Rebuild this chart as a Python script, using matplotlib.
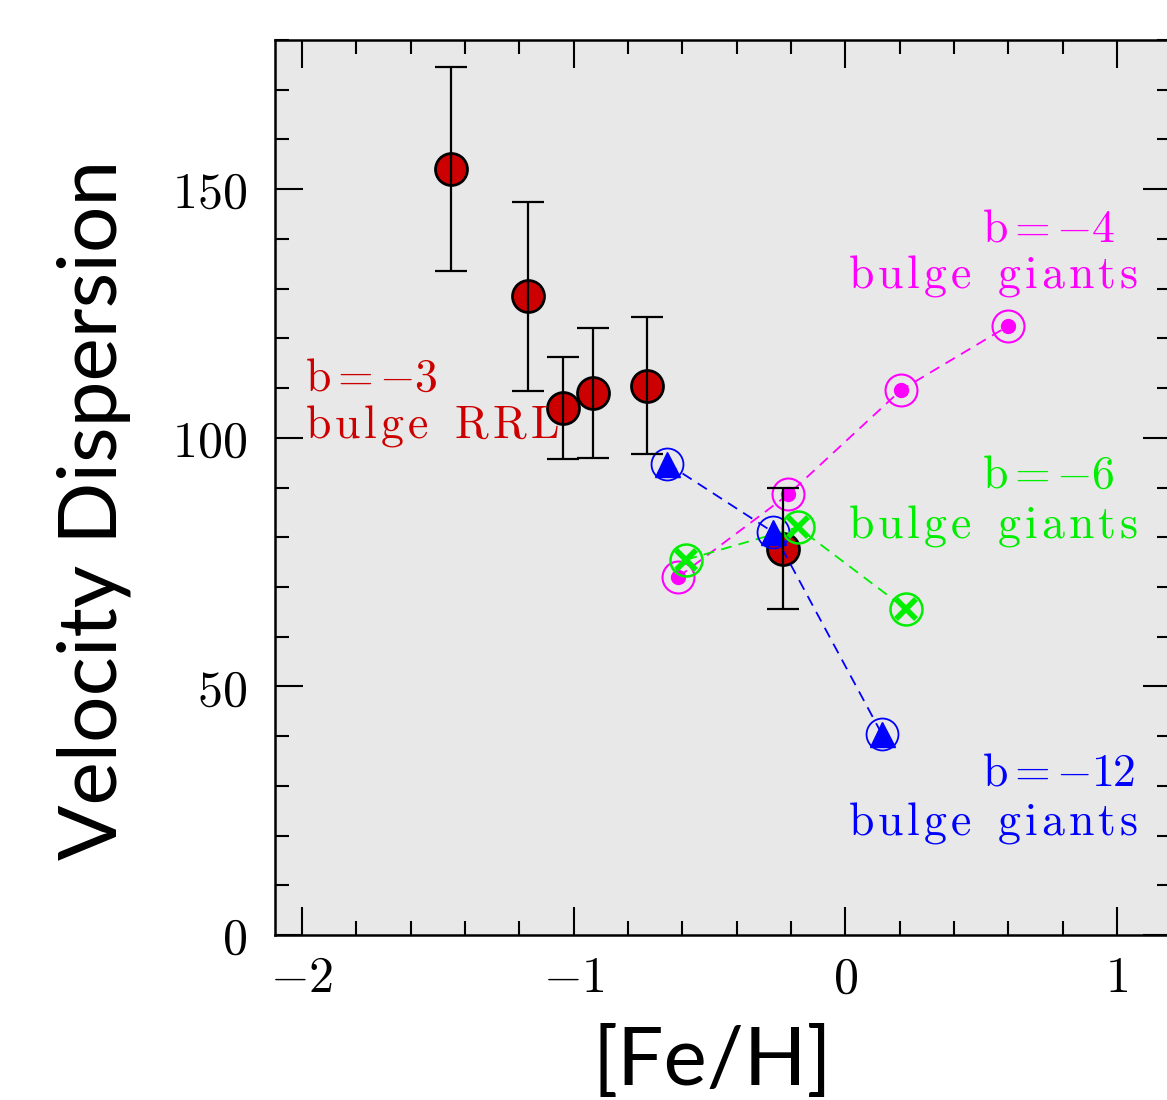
import matplotlib
matplotlib.use('Agg')
import matplotlib.pyplot as plt
from matplotlib.ticker import MultipleLocator

plt.rcParams['mathtext.fontset'] = 'cm'

# b=-3 bulge RR Lyrae (red, with error bars)
rrl_feh = [-1.45, -1.17, -1.04, -0.93, -0.73, -0.23]
rrl_sig = [154.0, 128.5, 106.0, 109.0, 110.5, 77.7]
rrl_err = [20.5, 19.0, 10.3, 13.0, 13.7, 12.2]

# b=-4 bulge giants (magenta)
b4_feh = [-0.615, -0.21, 0.205, 0.60]
b4_sig = [72.0, 88.6, 109.6, 122.5]

# b=-6 bulge giants (green)
b6_feh = [-0.585, -0.175, 0.225]
b6_sig = [75.5, 82.0, 65.5]

# b=-12 bulge giants (blue)
b12_feh = [-0.655, -0.265, 0.135]
b12_sig = [94.8, 81.0, 40.4]

xticks = [-2, -1, 0, 1]
yticks = [0, 50, 100, 150]


def spaced(s, gap=0.1):
    # mathtext roman with a little extra letter spacing (SM-like look)
    sep = r'\hspace{%g}' % gap
    words = [sep.join('{%s}' % c for c in w) for w in s.split(' ')]
    return r'$\mathrm{' + r'\ \ '.join(words) + '}$'


def num(v):
    return r'$\mathrm{%s}$' % ('-%d' % -v if v < 0 else '%d' % v)


fig = plt.figure(figsize=(11.67, 11.0), dpi=100)
ax = fig.add_axes([0.2356, 0.15, 0.768, 0.8136])
ax.set_facecolor('#e8e8e8')

# red RRL points, error bars drawn on top
ax.plot(rrl_feh, rrl_sig, 'o', ms=23, mfc='#cc0000', mec='black', mew=2, zorder=3)

# giants: dashed line, open circle, inner symbol
ax.plot(b12_feh, b12_sig, '--', color='blue', lw=1.3, dashes=(6, 4), zorder=4)
ax.plot(b12_feh, b12_sig, 'o', ms=23, mfc='none', mec='blue', mew=1.3, zorder=5)
ax.plot(b12_feh, b12_sig, '^', ms=18, mfc='blue', mec='blue', zorder=5)

ax.plot(b4_feh, b4_sig, '--', color='magenta', lw=1.3, dashes=(6, 4), zorder=4)
ax.plot(b4_feh, b4_sig, 'o', ms=23, mfc='none', mec='magenta', mew=1.5, zorder=5)
ax.plot(b4_feh, b4_sig, 'o', ms=10, mfc='magenta', mec='magenta', zorder=5)

ax.plot(b6_feh, b6_sig, '--', color='#00ee00', lw=1.3, dashes=(6, 4), zorder=4)
ax.plot(b6_feh, b6_sig, 'o', ms=23, mfc='none', mec='#00ee00', mew=1.8, zorder=5)
ax.plot(b6_feh, b6_sig, 'x', ms=14, mec='#00ee00', mew=4, zorder=5)

ax.errorbar(rrl_feh, rrl_sig, yerr=rrl_err, fmt='none', ecolor='black',
            elinewidth=1.6, capsize=11.5, capthick=1.6, zorder=6)

# labels
txt = dict(fontsize=33, va='center', ha='left')
ax.text(-1.99, 112, spaced('b=-3', -0.03), color='#cc0000', **txt)
ax.text(-1.99, 102.4, spaced('bulge RRL'), color='#cc0000', **txt)
ax.text(0.505, 142, spaced('b=-4', -0.03), color='magenta', **txt)
ax.text(0.011, 132.5, spaced('bulge giants'), color='magenta', **txt)
ax.text(0.505, 92.4, spaced('b=-6', -0.03), color='#00ee00', **txt)
ax.text(0.011, 82.3, spaced('bulge giants'), color='#00ee00', **txt)
ax.text(0.505, 32.5, spaced('b=-12', -0.03), color='blue', **txt)
ax.text(0.011, 22.5, spaced('bulge giants'), color='blue', **txt)

ax.set_xlim(-2.1, 1.2)
ax.set_ylim(0, 180)
ax.set_xticks(xticks)
ax.set_xticklabels([num(v) for v in xticks])
ax.set_yticks(yticks)
ax.set_yticklabels([num(v) for v in yticks])
ax.xaxis.set_minor_locator(MultipleLocator(0.2))
ax.yaxis.set_minor_locator(MultipleLocator(10))
ax.tick_params(which='both', direction='in', top=True, right=True, width=1.5)
ax.tick_params(which='major', length=20, labelsize=36)
ax.tick_params(axis='x', which='major', pad=14)
ax.tick_params(axis='y', which='major', pad=20)
ax.tick_params(which='minor', length=10)
for s in ax.spines.values():
    s.set_linewidth(1.8)

ax.set_xlabel('[Fe/H]', fontsize=59, family='Lato', labelpad=16, x=0.488)
ax.set_ylabel('Velocity Dispersion', fontsize=59, family='Lato', labelpad=30, y=0.475)

fig.savefig('out.png', dpi=100)
